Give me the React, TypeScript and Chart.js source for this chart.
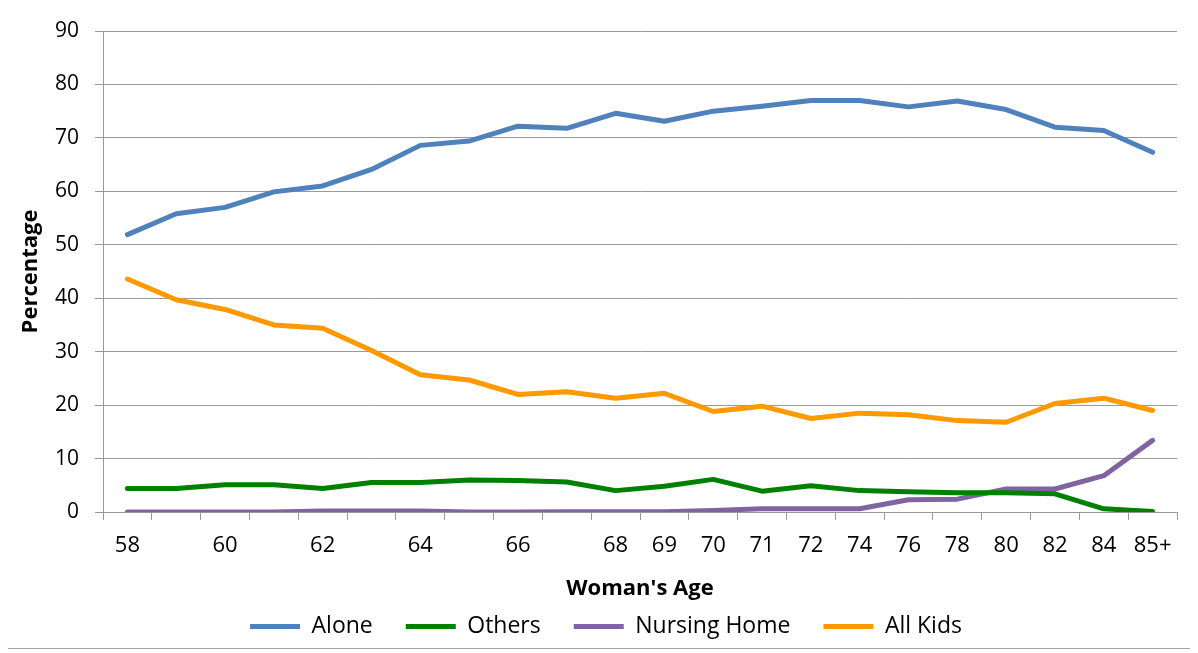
import React, { useEffect, useRef } from "react";
import { Chart, registerables } from "chart.js";

Chart.register(...registerables);

const categories = ["58","59","60","61","62","63","64","65","66","67","68","69","70","71","72","74","76","78","80","82","84","85+"];
const xTickLabels = ["58","","60","","62","","64","","66","","68","69","70","71","72","74","76","78","80","82","84","85+"];
const yTicks = [0,10,20,30,40,50,60,70,80,90];

const alone = [51.9,55.8,57.0,59.9,61.0,64.1,68.6,69.4,72.2,71.8,74.6,73.1,75.0,75.9,77.0,77.0,75.8,76.9,75.3,72.0,71.4,67.3];
const others = [4.4,4.4,5.1,5.1,4.4,5.5,5.5,6.0,5.9,5.6,4.0,4.8,6.1,3.9,4.9,4.0,3.8,3.6,3.6,3.4,0.6,0.1];
const nursingHome = [0,0,0,0,0.2,0.2,0.2,0,0,0.05,0.05,0.05,0.3,0.6,0.6,0.6,2.3,2.4,4.3,4.3,6.8,13.4];
const allKids = [43.6,39.7,37.9,35.0,34.4,30.2,25.7,24.7,22.0,22.5,21.3,22.2,18.8,19.8,17.5,18.5,18.2,17.1,16.8,20.3,21.3,19.0];

const FONT = "'Open Sans', 'DejaVu Sans', sans-serif";

export default function App() {
  const ref = useRef<HTMLCanvasElement | null>(null);

  useEffect(() => {
    if (!ref.current) return;
    const mk = (label: string, data: number[], color: string) => ({
      label,
      data,
      borderColor: color,
      backgroundColor: color,
      borderWidth: 5,
      borderCapStyle: "round" as const,
      borderJoinStyle: "round" as const,
      pointRadius: 0,
      pointHoverRadius: 0,
      tension: 0,
      fill: false,
    });
    const chart = new Chart(ref.current, {
      type: "line",
      data: {
        labels: categories,
        datasets: [
          mk("Alone", alone, "#4F81BD"),
          mk("Others", others, "#008000"),
          mk("Nursing Home", nursingHome, "#8064A2"),
          mk("All Kids", allKids, "#FF9900"),
        ],
      },
      options: {
        animation: false,
        responsive: true,
        maintainAspectRatio: false,
        color: "#000",
        layout: { padding: { left: 27, right: 15, top: 25, bottom: 0 } },
        plugins: {
          tooltip: { enabled: false },
          legend: {
            position: "bottom",
            labels: {
              usePointStyle: true,
              pointStyle: "line",
              pointStyleWidth: 50,
              padding: 33,
              color: "#000",
              font: { family: FONT, size: 23 },
            },
          },
        },
        scales: {
          x: {
            type: "category",
            offset: true,
            grid: {
              offset: true,
              drawOnChartArea: false,
              drawTicks: true,
              tickLength: 8,
              color: "#9a9a9a",
            },
            border: { display: true, color: "#9a9a9a" },
            ticks: {
              autoSkip: false,
              maxRotation: 0,
              minRotation: 0,
              padding: 13,
              color: "#000",
              font: { family: FONT, size: 22 },
              callback: (_v: any, i: number) => xTickLabels[i],
            },
            title: {
              display: true,
              text: "Woman's Age",
              color: "#000",
              font: { family: FONT, size: 22, weight: "bold" },
              padding: { top: 0, bottom: -20 },
            },
            afterFit: (s: any) => {
              s.height = 70;
            },
          },
          y: {
            min: 0,
            max: 90,
            afterBuildTicks: (s: any) => {
              s.ticks = yTicks.map((v) => ({ value: v }));
            },
            grid: {
              color: "#9a9a9a",
              drawTicks: true,
              tickLength: 8,
            },
            border: { display: true, color: "#9a9a9a" },
            ticks: {
              padding: 16,
              color: "#000",
              font: { family: FONT, size: 21, lineHeight: 0.5 },
            },
            title: {
              display: true,
              text: "Percentage",
              color: "#000",
              font: { family: FONT, size: 22, weight: "bold" },
              padding: { top: -17, bottom: 0 },
            },
            afterFit: (s: any) => {
              s.width = 68;
            },
          },
        },
      },
    });
    return () => chart.destroy();
  }, []);

  return (
    <div
      style={{
        position: "relative",
        width: 1184,
        height: 642,
        border: "1px solid #a6a6a6",
        marginTop: -3,
        marginLeft: -1,
        background: "#fff",
      }}
    >
      <canvas ref={ref} />
    </div>
  );
}
